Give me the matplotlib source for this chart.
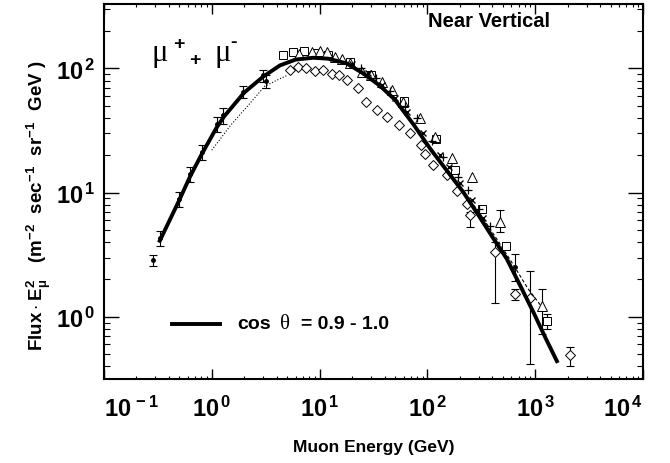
import math
import matplotlib
matplotlib.use('Agg')
import matplotlib.pyplot as plt
from matplotlib.ticker import FixedLocator, LogLocator, FuncFormatter, NullFormatter

plt.rcParams['font.family'] = ['Liberation Sans', 'DejaVu Sans']
plt.rcParams['font.weight'] = 'bold'
plt.rcParams['mathtext.fontset'] = 'custom'
plt.rcParams['mathtext.rm'] = 'Liberation Sans:bold'
plt.rcParams['mathtext.bf'] = 'Liberation Sans:bold'
plt.rcParams['mathtext.it'] = 'Liberation Sans:bold'

# fit curve (cos theta = 0.9 - 1.0)
curve_E = [0.33, 0.5, 0.63, 0.81, 1.1, 1.3, 2.0, 3.0, 4.3, 6.0, 8.7, 12, 17.8,
           25, 36, 50, 75, 106, 150, 215, 300, 400, 543, 750, 960, 1250, 1585]
curve_F = [4.1, 8.7, 13.5, 20.5, 33, 41, 64, 86, 106, 118, 122, 120, 110,
           92, 73, 56, 35, 22.6, 15.2, 10.1, 6.5, 4.4, 2.94, 1.68, 1.09, 0.67, 0.44]

# other calculations
dot_line_E = [1.0, 1.5, 2.2, 3.1, 4.2, 5.0]
dot_line_F = [22, 35, 51, 72, 82, 88]
dash_line_E = [200, 300, 450, 630, 850, 1150]
dash_line_F = [11, 7.0, 4.1, 2.6, 1.7, 1.2]

# small filled dots with error bars
dot_E = [0.285, 0.33, 0.50, 0.63, 0.81, 1.11, 1.28, 1.96, 2.96, 3.2, 650]
dot_F = [2.85, 4.3, 8.9, 14.2, 21.3, 36, 42, 65, 88, 79, 2.5]
dot_lo = [0.3, 0.6, 1.2, 2.0, 3.0, 5, 6, 7, 10, 9, 0.55]
dot_hi = [0.3, 0.6, 1.2, 2.0, 3.0, 5, 6, 7, 10, 9, 0.7]

# open squares
sq_E = [4.6, 5.7, 7.2, 9.0, 12, 19, 30, 60, 120, 180, 319, 535, 1280]
sq_F = [128, 135, 138, 133, 128, 112, 88, 55, 27, 15.1, 7.4, 3.7, 0.93]
sq_err_E = [1280]
sq_err_F = [0.93]
sq_lo = [0.13]
sq_hi = [0.13]

# open triangles
tri_E = [6.5, 8.5, 10, 11.6, 13.9, 16, 19.2, 24.6, 30, 38, 46.7, 59.7, 85, 117,
         170, 258, 471, 1150]
tri_F = [132, 135, 138, 137, 124, 119, 110, 94, 88, 78, 67, 54, 40, 28,
         19, 13.4, 5.8, 1.23]
tri_err_E = [471, 1150]
tri_err_F = [5.8, 1.23]
tri_lo = [1.0, 0.5]
tri_hi = [1.4, 0.45]

# open diamonds
dia_E = [5.3, 6.3, 7.5, 9.0, 10.8, 12.9, 15, 17.8, 22.8,
         27, 34, 42, 54, 69, 88, 95, 113, 151, 187, 231, 248, 424, 650, 895, 2100]
dia_F = [97, 102, 100, 96, 97, 91, 88, 81, 70,
         54, 46, 41, 35, 30, 24, 20.6, 16.6, 13.8, 10.4, 8.15, 6.6, 3.3, 1.53, 1.42, 0.49]
dia_err_E = [248, 424, 650, 895, 2100]
dia_err_F = [6.6, 3.3, 1.53, 1.42, 0.49]
dia_lo = [1.3, 2.0, 0.15, 1.0, 0.09]
dia_hi = [0.4, 0.7, 0.15, 0.94, 0.08]

# crosses and pluses
x_E = [20, 28, 38, 50, 65, 90, 130, 160, 200, 260, 330]
x_F = [108, 92, 74, 58, 45, 30, 20, 16, 12, 8.8, 6.3]
p_E = [24, 33, 45, 62, 80, 110, 140, 190, 240, 300, 380]
p_F = [100, 84, 66, 50, 40, 26, 19.5, 13.5, 10.5, 7.4, 5.4]

x_ticks = [0.1, 1, 10, 100, 1000, 10000]
y_ticks = [1, 10, 100]

fig = plt.figure(figsize=(6.7, 4.64), dpi=100)
ax = fig.add_axes([0.155, 0.181, 0.805, 0.808])

ax.plot(dot_line_E, dot_line_F, ':', color='black', lw=0.8)
ax.plot(dash_line_E, dash_line_F, '--', color='black', lw=0.8, dashes=(3, 2))

ax.errorbar(dot_E, dot_F, yerr=[dot_lo, dot_hi], fmt='o', ms=2.5, color='black',
            elinewidth=0.8, capsize=3, capthick=0.8, zorder=3)
ax.errorbar(sq_err_E, sq_err_F, yerr=[sq_lo, sq_hi], fmt='none', ecolor='black',
            elinewidth=0.8, capsize=3, capthick=0.8)
ax.errorbar(tri_err_E, tri_err_F, yerr=[tri_lo, tri_hi], fmt='none', ecolor='black',
            elinewidth=0.8, capsize=3, capthick=0.8)
ax.errorbar(dia_err_E, dia_err_F, yerr=[dia_lo, dia_hi], fmt='none', ecolor='black',
            elinewidth=0.8, capsize=3, capthick=0.8)

ax.plot(sq_E, sq_F, 's', ms=6, mfc='white', mec='black', mew=0.7, zorder=4)
ax.plot(tri_E, tri_F, '^', ms=7, mfc='white', mec='black', mew=0.7, zorder=4)
ax.plot(dia_E, dia_F, 'D', ms=5.5, mfc='white', mec='black', mew=0.7, zorder=4)
ax.plot(x_E, x_F, 'x', ms=5, color='black', mew=1.0, zorder=5)
ax.plot(p_E, p_F, '+', ms=6, color='black', mew=0.9, zorder=5)

ax.plot(curve_E, curve_F, '-', color='black', lw=2.8, zorder=6)

ax.set_xscale('log')
ax.set_yscale('log')
ax.set_xlim(0.1, 1e4)
ax.set_ylim(0.316, 330)

fmt = FuncFormatter(lambda v, p: r'$10^{\,%d}$' % round(math.log10(v)))
ax.xaxis.set_major_locator(FixedLocator(x_ticks))
ax.yaxis.set_major_locator(FixedLocator(y_ticks))
ax.xaxis.set_major_formatter(fmt)
ax.yaxis.set_major_formatter(fmt)
ax.xaxis.set_minor_locator(LogLocator(base=10, subs=range(2, 10)))
ax.yaxis.set_minor_locator(LogLocator(base=10, subs=range(2, 10)))
ax.xaxis.set_minor_formatter(NullFormatter())
ax.yaxis.set_minor_formatter(NullFormatter())

ax.tick_params(which='both', direction='in', top=True, right=True, labelsize=17)
ax.tick_params(axis='x', which='major', length=7, width=1, pad=12)
ax.tick_params(axis='x', which='minor', length=2.5, width=0.8)
ax.tick_params(axis='y', which='major', length=11, width=1, pad=6)
ax.tick_params(axis='y', which='minor', length=4, width=0.8)
for s in ax.spines.values():
    s.set_linewidth(1.5)

# first and last x labels are pulled inside the axis span
xt = ax.xaxis.get_major_ticks()
xt[0].label1.set_horizontalalignment('left')
xt[-1].label1.set_horizontalalignment('right')

ax.set_xlabel('Muon Energy (GeV)', fontsize=12.5, fontweight='bold')
ax.xaxis.set_label_coords(0.5, -0.16)
ax.set_ylabel(r'$\mathrm{Flux \cdot E_{\mu}^{2}\ \ \ (m^{-2}\ \ sec^{-1}\ \ sr^{-1}\ \ GeV\ )}$',
              fontsize=13.5)
ax.yaxis.set_label_coords(-0.095, 0.465)

ax.text(0.827, 0.955, 'Near Vertical', transform=ax.transAxes, ha='right',
        va='center', fontsize=14.5, fontweight='bold')

# mu+ + mu- label
ax.text(0.089, 0.85, 'μ', transform=ax.transAxes, fontsize=22,
        family='Liberation Serif', fontweight='normal', va='baseline')
ax.text(0.128, 0.896, '+', transform=ax.transAxes, fontsize=14,
        fontweight='bold', va='center')
ax.text(0.158, 0.851, '+', transform=ax.transAxes, fontsize=14,
        fontweight='bold', va='center')
ax.text(0.205, 0.85, 'μ', transform=ax.transAxes, fontsize=22,
        family='Liberation Serif', fontweight='normal', va='baseline')
ax.text(0.234, 0.899, '-', transform=ax.transAxes, fontsize=14,
        fontweight='bold', va='center')

# legend entry
ax.plot([0.126, 0.215], [0.147, 0.147], '-', color='black', lw=2.8,
        transform=ax.transAxes)
ax.text(0.247, 0.147, 'cos', transform=ax.transAxes, fontsize=14,
        fontweight='bold', va='center')
ax.text(0.327, 0.147, 'θ', transform=ax.transAxes, fontsize=15,
        family='Liberation Serif', fontweight='normal', va='center')
ax.text(0.365, 0.147, '= 0.9 - 1.0', transform=ax.transAxes, fontsize=14,
        fontweight='bold', va='center')

fig.savefig('out.png', dpi=100)
